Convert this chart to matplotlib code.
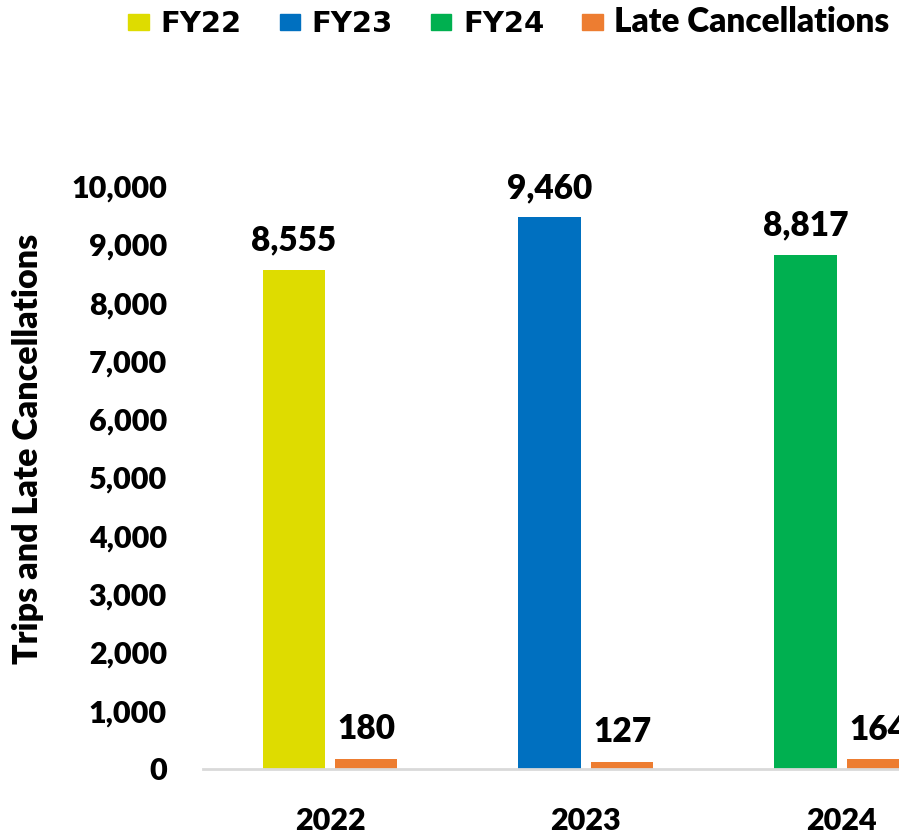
import matplotlib
matplotlib.use("Agg")
import matplotlib.pyplot as plt
from matplotlib.patches import Patch
import numpy as np

years = ["2022", "2023", "2024"]
fy_labels = ["FY22", "FY23", "FY24"]
trips = [8555, 9460, 8817]
late_cancellations = [180, 127, 164]

fy_colors = ["#DEDC00", "#0070C0", "#00B050"]
late_color = "#ED7D31"

plt.rcParams["font.family"] = "Lato"
WT = "heavy"

fig = plt.figure(figsize=(8.99, 8.33), dpi=100)
ax = fig.add_axes([203 / 899, 64 / 833, 1 - 203 / 899, 583 / 833])

x = np.arange(len(years))
w = 0.245
off = 0.141

ax.bar(x - off, trips, w, color=fy_colors)
ax.bar(x + off, late_cancellations, w, color=late_color)

for xi, v in zip(x, trips):
    ax.annotate(f"{v:,}", (xi - off, v), xytext=(0, 14), textcoords="offset points",
                ha="center", va="baseline", fontsize=24, fontweight=WT)
for xi, v in zip(x, late_cancellations):
    ax.annotate(f"{v:,}", (xi + off, v), xytext=(0, 14), textcoords="offset points",
                ha="center", va="baseline", fontsize=24, fontweight=WT)

ax.set_xlim(-0.496, 2.223)
ax.set_ylim(0, 10000)
ax.set_yticks(range(0, 10001, 1000))
ax.set_yticklabels([f"{t:,}" for t in range(0, 10001, 1000)])
ax.set_xticks(x)
ax.set_xticklabels(years)
ax.tick_params(axis="both", length=0, labelsize=22)
ax.tick_params(axis="y", pad=26)
ax.tick_params(axis="x", pad=27)
for lab in ax.get_xticklabels() + ax.get_yticklabels():
    lab.set_fontweight(WT)

for s in ["top", "right", "left"]:
    ax.spines[s].set_visible(False)
ax.spines["bottom"].set_color("#D9D9D9")
ax.spines["bottom"].set_linewidth(2)

ax.set_ylabel("Trips and Late Cancellations", fontsize=24.5, fontweight=WT)
ax.yaxis.set_label_coords(-(203 - 44) / 696, (769 - 449) / 583)

handles = [Patch(color=c, label=l) for c, l in zip(fy_colors, fy_labels)]
handles.append(Patch(color=late_color, label="Late Cancellations"))
leg = fig.legend(handles=handles, loc="upper center", bbox_to_anchor=(509 / 899, 1.024),
                 ncol=4, frameon=False, fontsize=21, handlelength=0.7, handleheight=0.5,
                 handletextpad=0.4, columnspacing=1.3)
for t in leg.get_texts()[:3]:
    t.set_family("DejaVu Sans")
    t.set_fontweight("bold")
leg.get_texts()[3].set_fontsize(24)
leg.get_texts()[3].set_fontweight(WT)

fig.savefig("out.png", dpi=100)
